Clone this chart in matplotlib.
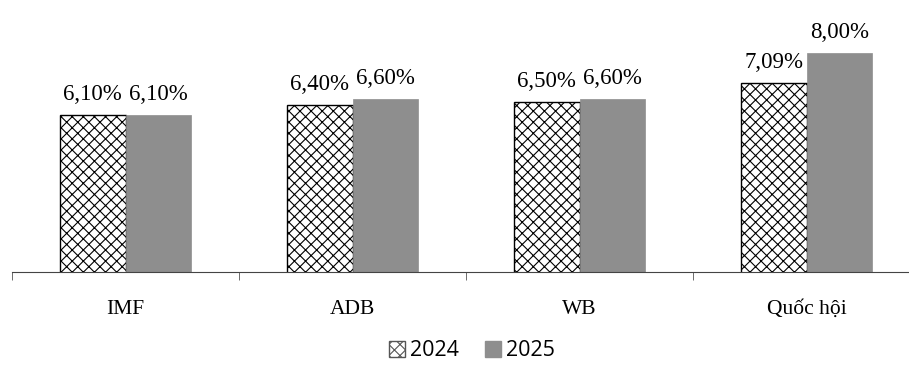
import numpy as np
import matplotlib.pyplot as plt
from matplotlib.patches import Patch

plt.rcParams['hatch.linewidth'] = 0.8

categories = ['IMF', 'ADB', 'WB', 'Quốc hội']
g2024 = [6.10, 6.40, 6.50, 7.09]
g2025 = [6.10, 6.60, 6.60, 8.00]
labels2024 = ['6,10%', '6,40%', '6,50%', '7,09%']
labels2025 = ['6,10%', '6,60%', '6,60%', '8,00%']

fig = plt.figure(figsize=(9.09, 3.65), dpi=100)
ax = fig.add_axes([12 / 909, 93 / 365, 0.999, 262 / 365])

x = np.arange(len(categories))
w = 0.29
b1 = ax.bar(x - w / 2, g2024, w, facecolor='white', edgecolor='black',
            hatch='xxx', linewidth=1.0, label='2024')
b2 = ax.bar(x + w / 2, g2025, w, color='#8e8e8e', edgecolor='#8e8e8e',
            linewidth=0.5, label='2025')

for r, t in zip(b1, labels2024):
    ax.text(r.get_x() + r.get_width() / 2, r.get_height() + 0.3, t,
            ha='center', va='bottom', fontsize=16.5, family='Liberation Serif')
for r, t in zip(b2, labels2025):
    ax.text(r.get_x() + r.get_width() / 2, r.get_height() + 0.3, t,
            ha='center', va='bottom', fontsize=16.5, family='Liberation Serif')

# the scanned chart's value axis does not start at zero
ax.set_xlim(-0.5, 3.5)
ax.set_ylim(1.28, 9.32)
ax.set_xticks(x)
ax.set_xticklabels(categories, fontsize=15.5, family='Liberation Serif')
ax.tick_params(axis='x', length=0, pad=20)
ax.set_xticks(np.arange(-0.5, 3.6, 1), minor=True)
ax.tick_params(axis='x', which='minor', length=6, color='#555555')
ax.set_yticks([])
for s in ['top', 'right', 'left']:
    ax.spines[s].set_visible(False)
ax.spines['bottom'].set_color('#444444')

handles = [Patch(facecolor='white', edgecolor='#555555', hatch='xxx', label='2024'),
           Patch(facecolor='#8e8e8e', edgecolor='#8e8e8e', label='2025')]
fig.legend(handles=handles, loc='center', bbox_to_anchor=(472 / 909, 14 / 365),
           ncol=2, frameon=False, handlelength=0.75, handleheight=0.75,
           handletextpad=0.25, columnspacing=1.2, borderpad=0.1,
           prop={'family': 'Open Sans', 'size': 15.5})

fig.savefig('out.png', dpi=100)
